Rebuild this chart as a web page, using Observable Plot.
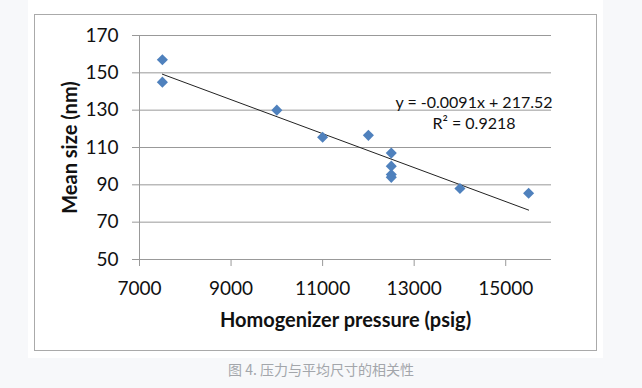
<!DOCTYPE html>
<html>
<head>
<meta charset="utf-8">
<script src="https://cdn.jsdelivr.net/npm/d3@7"></script>
<script src="https://cdn.jsdelivr.net/npm/@observablehq/plot@0.6"></script>
<style>
  html, body { margin: 0; padding: 0; }
  body { width: 642px; height: 388px; background: #f7f8fa; position: relative; overflow: hidden; font-family: Lato, sans-serif; }
  #panel { position: absolute; left: 28px; top: 0; width: 575px; height: 358px; background: #fff; }
  #box { position: absolute; left: 34px; top: 14px; width: 561px; height: 335px; border: 1.5px solid #aaa; }
  #chart { position: absolute; left: 0; top: 0; }
  #caption { position: absolute; left: 0; width: 642px; top: 359px; text-align: center; font-family: "Noto Sans CJK SC", sans-serif; font-size: 14px; color: #a3a6ab; line-height: 20px; }
</style>
</head>
<body>
<div id="panel"></div>
<div id="box"></div>
<div id="chart"></div>
<div id="caption">图 4. 压力与平均尺寸的相关性</div>
<script>
// Data
const pressure = [7500, 7500, 10000, 11000, 12000, 12500, 12500, 12500, 12500, 14000, 15500];
const meanSize = [157, 145, 130, 115.5, 116.5, 107, 100, 95.5, 94, 88, 85.5];

// Trendline as stated on the chart
const trendSlope = -0.0091;
const trendIntercept = 217.52;
const trendRange = [7500, 15500];
const equationLines = ["y = -0.0091x + 217.52", "R² = 0.9218"];

// Axis ticks
const xTicks = [7000, 9000, 11000, 13000, 15000];
const yTicks = [50, 70, 90, 110, 130, 150, 170];
const xTitle = "Homogenizer pressure (psig)";
const yTitle = "Mean size (nm)";

const points = pressure.map((p, i) => ({x: p, y: meanSize[i]}));
const trend = trendRange.map(x => ({x, y: trendSlope * x + trendIntercept}));

const gridColor = "#999";

const chart = Plot.plot({
  width: 642,
  height: 340,
  marginLeft: 139,
  marginRight: 91,
  marginTop: 35,
  marginBottom: 81,
  style: {fontFamily: "Lato, sans-serif", background: "transparent", overflow: "visible", color: "#111"},
  x: {domain: [7000, 16000]},
  y: {domain: [50, 170]},
  marks: [
    Plot.gridY(yTicks, {stroke: gridColor, strokeOpacity: 1, strokeWidth: 1}),
    Plot.ruleX([7000], {stroke: gridColor, strokeWidth: 1}),
    Plot.axisY(yTicks, {tickSize: 7, tickPadding: 14, stroke: gridColor, fill: "#111", fontSize: 19, label: null, tickFormat: d => String(d)}),
    Plot.axisX(xTicks, {tickSize: 7, tickPadding: 15, stroke: gridColor, fill: "#111", fontSize: 19, label: null, tickFormat: d => String(d)}),
    Plot.line(trend, {x: "x", y: "y", stroke: "#222", strokeWidth: 1}),
    Plot.dot(points, {x: "x", y: "y", symbol: "diamond2", r: 5, fill: "#4F81BD", stroke: "none"}),
    Plot.text([equationLines.join("\n")], {frameAnchor: "top-left", dx: 334.5, dy: 76.5, textAnchor: "middle", lineAnchor: "middle", lineHeight: 1.3, fontSize: 16, fill: "#111"}),
    Plot.text([xTitle], {frameAnchor: "bottom", dy: 61, lineAnchor: "middle", fontSize: 20, fontWeight: "bold", fill: "#111"}),
    Plot.text([yTitle], {frameAnchor: "left", dx: -69, rotate: -90, lineAnchor: "middle", textAnchor: "middle", fontSize: 20, fontWeight: "bold", fill: "#111"})
  ]
});
document.getElementById("chart").appendChild(chart);
</script>
</body>
</html>
